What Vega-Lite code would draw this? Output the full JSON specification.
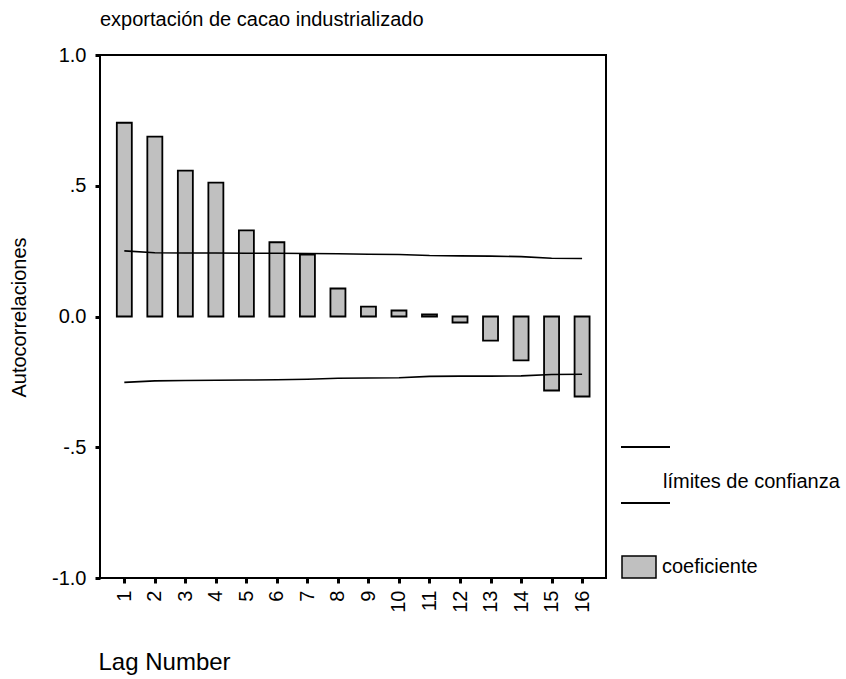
{
  "$schema": "https://vega.github.io/schema/vega-lite/v6.json",
  "width": 506,
  "height": 523,
  "autosize": "none",
  "padding": {"left": 100, "top": 55, "right": 240, "bottom": 101},
  "background": "white",
  "config": {
    "font": "Liberation Sans",
    "view": {"stroke": "black", "strokeWidth": 2},
    "axis": {"labelColor": "black", "titleColor": "black", "tickColor": "black", "grid": false, "domain": false, "titleFontWeight": "normal"}
  },
  "title": {
    "text": "exportación de cacao industrializado",
    "anchor": "start",
    "frame": "group",
    "fontSize": 20,
    "fontWeight": "normal",
    "color": "black",
    "offset": 15
  },
  "data": {
    "values": [
      {"lag": 1, "acf": 0.741, "upper": 0.251, "lower": -0.252},
      {"lag": 2, "acf": 0.688, "upper": 0.244, "lower": -0.246},
      {"lag": 3, "acf": 0.558, "upper": 0.243, "lower": -0.245},
      {"lag": 4, "acf": 0.512, "upper": 0.243, "lower": -0.244},
      {"lag": 5, "acf": 0.329, "upper": 0.242, "lower": -0.243},
      {"lag": 6, "acf": 0.284, "upper": 0.242, "lower": -0.242},
      {"lag": 7, "acf": 0.237, "upper": 0.241, "lower": -0.240},
      {"lag": 8, "acf": 0.107, "upper": 0.240, "lower": -0.236},
      {"lag": 9, "acf": 0.038, "upper": 0.238, "lower": -0.235},
      {"lag": 10, "acf": 0.023, "upper": 0.237, "lower": -0.234},
      {"lag": 11, "acf": 0.008, "upper": 0.233, "lower": -0.229},
      {"lag": 12, "acf": -0.023, "upper": 0.232, "lower": -0.228},
      {"lag": 13, "acf": -0.092, "upper": 0.231, "lower": -0.228},
      {"lag": 14, "acf": -0.168, "upper": 0.229, "lower": -0.227},
      {"lag": 15, "acf": -0.283, "upper": 0.223, "lower": -0.222},
      {"lag": 16, "acf": -0.306, "upper": 0.222, "lower": -0.221}
    ]
  },
  "encoding": {
    "x": {
      "field": "lag",
      "type": "quantitative",
      "scale": {"domain": [0.367, 16.62], "nice": false, "zero": false},
      "axis": {
        "values": [1, 2, 3, 4, 5, 6, 7, 8, 9, 10, 11, 12, 13, 14, 15, 16],
        "format": "d",
        "labelAngle": 270,
        "labelFontSize": 20,
        "labelPadding": 7,
        "tickSize": 5,
        "tickWidth": 3,
        "title": "Lag Number",
        "titleFontSize": 24,
        "titleX": -2,
        "titleY": 91,
        "titleAlign": "left",
        "titleAnchor": "start",
        "titleBaseline": "alphabetic"
      }
    }
  },
  "layer": [
    {
      "mark": {"type": "bar", "width": 15, "stroke": "black", "strokeWidth": 1.8},
      "encoding": {
        "y": {
          "field": "acf",
          "type": "quantitative",
          "scale": {"domain": [-1, 1], "nice": false},
          "axis": {
            "values": [-1, -0.5, 0, 0.5, 1],
            "labelExpr": "datum.value == 0 ? '0.0' : datum.value == 1 ? '1.0' : datum.value == -1 ? '-1.0' : datum.value == 0.5 ? '.5' : '-.5'",
            "labelFontSize": 20,
            "labelPadding": 9,
            "tickSize": 5,
            "tickWidth": 3,
            "title": "Autocorrelaciones",
            "titleFontSize": 20,
            "titleAngle": 270,
            "titleX": -81,
            "titleY": 262,
            "titleAlign": "center",
            "titleBaseline": "middle"
          }
        },
        "fill": {
          "datum": "coeficiente",
          "scale": {"domain": ["coeficiente"], "range": ["#c0c0c0"]},
          "legend": {
            "title": null,
            "orient": "none",
            "legendX": 521,
            "legendY": 494,
            "symbolType": "M-1,-0.647H1V0.647H-1Z",
            "symbolSize": 1156,
            "symbolStrokeColor": "black",
            "symbolStrokeWidth": 1.5,
            "labelFontSize": 20,
            "labelColor": "black",
            "labelLimit": 300,
            "labelOffset": 5
          }
        }
      }
    },
    {
      "mark": {"type": "line", "strokeWidth": 1.6},
      "encoding": {
        "y": {"field": "upper", "type": "quantitative"},
        "stroke": {
          "datum": "límites de confianza",
          "scale": {"domain": ["límites de confianza"], "range": ["black"]},
          "legend": {
            "title": null,
            "orient": "none",
            "legendX": 520,
            "legendY": 401.5,
            "symbolType": "M-1,-1.43H1M-1,0.86H1",
            "symbolSize": 2401,
            "symbolStrokeWidth": 2,
            "labelFontSize": 20,
            "labelColor": "black",
            "labelLimit": 300,
            "labelOffset": -8
          }
        }
      }
    },
    {
      "mark": {"type": "line", "strokeWidth": 1.6},
      "encoding": {
        "y": {"field": "lower", "type": "quantitative"},
        "stroke": {"datum": "límites de confianza"}
      }
    },
    {
      "mark": {"type": "rule", "strokeWidth": 2, "color": "black"},
      "encoding": {"y": {"datum": 0}}
    }
  ]
}
